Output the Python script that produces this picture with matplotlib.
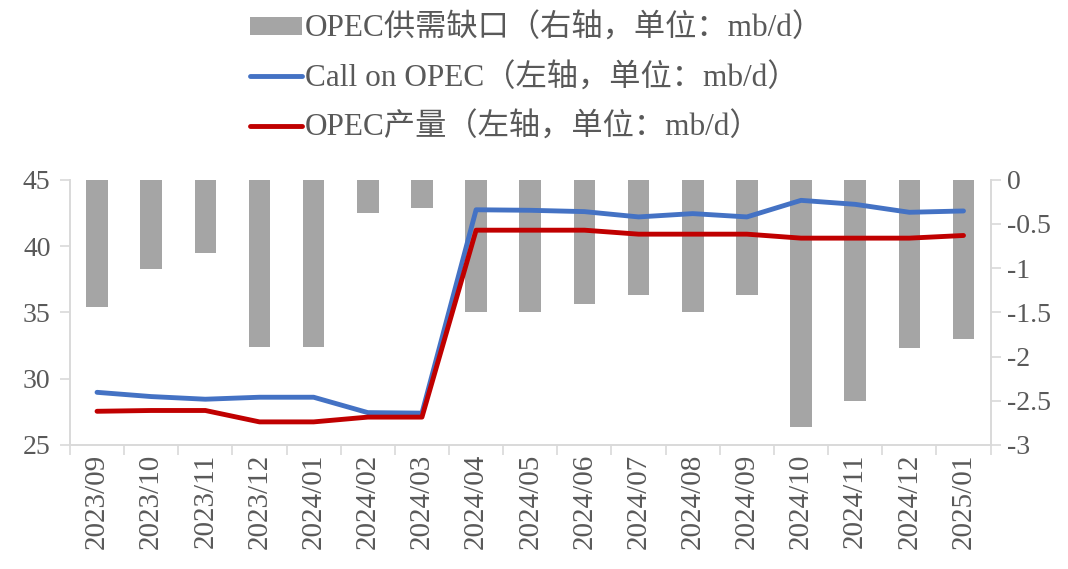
import matplotlib.pyplot as plt
import numpy as np

months = ['2023/09', '2023/10', '2023/11', '2023/12', '2024/01', '2024/02',
          '2024/03', '2024/04', '2024/05', '2024/06', '2024/07', '2024/08',
          '2024/09', '2024/10', '2024/11', '2024/12', '2025/01']
# OPEC supply gap (right axis)
gap = [-1.44, -1.01, -0.83, -1.89, -1.89, -0.37, -0.32, -1.5, -1.5,
       -1.4, -1.3, -1.5, -1.3, -2.8, -2.5, -1.9, -1.8]
# Call on OPEC (left axis)
call_on_opec = [28.97, 28.65, 28.45, 28.6, 28.6, 27.44, 27.4, 42.74, 42.7,
                42.6, 42.2, 42.45, 42.2, 43.45, 43.15, 42.55, 42.65]
# OPEC production (left axis)
opec_prod = [27.54, 27.6, 27.6, 26.74, 26.74, 27.1, 27.1, 41.2, 41.2,
             41.2, 40.9, 40.9, 40.9, 40.6, 40.6, 40.6, 40.8]

plt.rcParams['font.family'] = ['Liberation Serif', 'Noto Sans CJK SC', 'DejaVu Sans']

grey_txt = '#595959'
spine_col = '#d9d9d9'

fig = plt.figure(figsize=(10.68, 5.69), dpi=100)
ax = fig.add_axes([0.0655, 0.218, 0.862, 0.466])
ax2 = ax.twinx()

x = np.arange(len(months))
bars = ax2.bar(x, gap, width=0.4, color='#a5a5a5', label='OPEC供需缺口（右轴，单位：mb/d）')
l1, = ax.plot(x, call_on_opec, color='#4472c4', lw=3.5, solid_capstyle='round',
              label='Call on OPEC（左轴，单位：mb/d）')
l2, = ax.plot(x, opec_prod, color='#c00000', lw=3.5, solid_capstyle='round',
              label='OPEC产量（左轴，单位：mb/d）')

# lines drawn over the bars
ax.set_zorder(ax2.get_zorder() + 1)
ax.patch.set_visible(False)

ax.set_xlim(-0.5, len(months) - 0.5)
ax.set_ylim(25, 45)
ax.set_yticks([25, 30, 35, 40, 45])
ax2.set_ylim(-3, 0)
ax2.set_yticks([-3, -2.5, -2, -1.5, -1, -0.5, 0])
ax2.set_yticklabels(['-3', '-2.5', '-2', '-1.5', '-1', '-0.5', '0'])

ax.set_xticks(x)
ax.set_xticklabels(months, rotation=90)
ax.set_xticks(np.arange(-0.5, len(months), 1), minor=True)
ax.tick_params(axis='x', which='major', length=0, pad=6, labelsize=21, labelcolor=grey_txt)
ax.tick_params(axis='x', which='minor', length=7, color=spine_col, width=1.2)
ax.tick_params(axis='y', length=7, color=spine_col, width=1.2, labelsize=20,
               labelcolor=grey_txt, pad=7)
ax2.tick_params(axis='y', length=7, color=spine_col, width=1.2, labelsize=20,
                labelcolor=grey_txt, pad=5)

for a in (ax, ax2):
    a.spines['top'].set_visible(False)
    for s in ('left', 'right', 'bottom'):
        a.spines[s].set_color(spine_col)
        a.spines[s].set_linewidth(1.2)

leg = fig.legend(handles=[bars, l1, l2], loc='upper center', bbox_to_anchor=(0.503, 1.025),
                 frameon=False, fontsize=22.5, labelspacing=0.62, handlelength=1.65,
                 handleheight=0.5, handletextpad=0.1)
for t in leg.get_texts():
    t.set_color(grey_txt)

fig.savefig('out.png', dpi=100)
